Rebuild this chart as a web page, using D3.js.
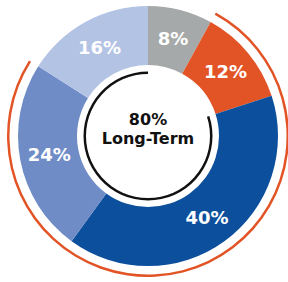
<!DOCTYPE html>
<html>
<head>
<meta charset="utf-8">
<script src="https://cdn.jsdelivr.net/npm/d3@7"></script>
<style>
body{margin:0;background:#fff;}
</style>
</head>
<body>
<svg class="donut" width="288" height="282"></svg>
<script>
var labels=["8%","12%","40%","24%","16%"];
var values=[8,12,40,24,16];
var colors=["#a6a9a9","#e25425","#0b4f9d","#6f8cc7","#b3c3e4"];
// outer orange ring covers slices 1..3, inner black ring covers 2..4
var outerSpan=[1,3];
var innerSpan=[2,4];
var centerText=["80%","Long-Term"];

var cx=148,cy=136;
var svg=d3.select(".donut").append("g").attr("transform","translate("+cx+","+cy+")");

var pie=d3.pie().sort(null)(values);
var segment=d3.arc().innerRadius(71).outerRadius(130);

svg.selectAll("path.slice").data(pie).enter().append("path")
  .attr("class","slice")
  .attr("d",segment)
  .attr("fill",(d,i)=>colors[i]);

svg.selectAll("text.lbl").data(pie).enter().append("text")
  .attr("class","lbl")
  .attr("transform",d=>"translate("+segment.centroid(d)+")")
  .attr("text-anchor","middle")
  .attr("dy","0.36em")
  .attr("fill","#fff")
  .attr("font-family","DejaVu Sans")
  .attr("font-weight","bold")
  .attr("font-size",18)
  .text((d,i)=>labels[i]);

// orange outer ring
svg.append("path")
  .attr("d",d3.arc().innerRadius(138.5).outerRadius(141)
    .startAngle(pie[outerSpan[0]].startAngle).endAngle(pie[outerSpan[1]].endAngle)())
  .attr("fill","#e25425");

// black inner ring
svg.append("path")
  .attr("d",d3.arc().innerRadius(62).outerRadius(64.5)
    .startAngle(pie[innerSpan[0]].startAngle).endAngle(pie[innerSpan[1]].endAngle)())
  .attr("fill","#111");

svg.selectAll("text.ctr").data(centerText).enter().append("text")
  .attr("class","ctr")
  .attr("text-anchor","middle")
  .attr("y",(d,i)=>-17+i*19)
  .attr("dy","0.36em")
  .attr("fill","#111")
  .attr("font-family","DejaVu Sans")
  .attr("font-weight","bold")
  .attr("font-size",16)
  .text(d=>d);
</script>
</body>
</html>
